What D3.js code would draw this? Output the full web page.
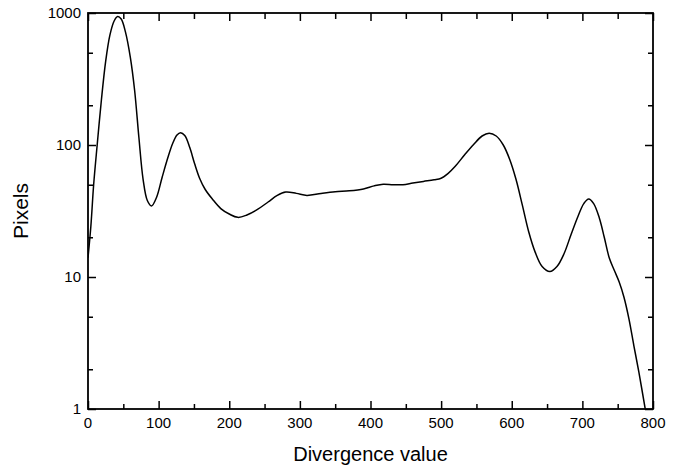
<!DOCTYPE html>
<html>
<head>
<meta charset="utf-8">
<script src="https://cdn.jsdelivr.net/npm/d3@7"></script>
<style>
  body { margin: 0; background: #fff; }
  text { font-family: "Liberation Sans", Arial, Helvetica, sans-serif; fill: #000; }
</style>
</head>
<body>
<div id="chart"></div>
<script>
// Histogram values
const divergence = [0, 4, 8, 13, 19, 25, 31, 37, 42, 47, 53, 60, 66, 72, 78, 84, 90, 97, 105, 113,
  120, 126, 131, 137, 144, 151, 158, 166, 176, 188, 200, 212, 225, 240, 255, 268, 280, 295, 310, 330,
  350, 370, 390, 405, 418, 432, 446, 460, 475, 490, 500, 510, 520, 533, 546, 558, 568, 578, 588, 597,
  606, 615, 624, 633, 643, 654, 664, 674, 684, 694, 702, 709, 716, 724, 731, 738, 745, 752, 759, 766,
  773, 780, 789];
const pixels = [14, 24, 50, 100, 220, 430, 680, 870, 940, 900, 720, 460, 260, 115, 55, 38, 34.5, 40, 57, 80,
  103, 119, 124, 118, 96, 72, 56, 46, 39, 33, 30, 28.3, 29.5, 32.5, 37, 41.5, 44, 43, 41.5, 43,
  44.3, 45, 46.5, 49, 50.5, 50, 50, 51.5, 53, 54.5, 56, 61, 69, 84, 101, 117, 122.6, 117, 100, 78,
  55, 35, 22, 15.5, 12, 11, 12, 15, 21, 29, 36, 39, 36, 28, 20, 14, 11.3, 9.2, 7, 4.8,
  3, 1.9, 1.0];

const xMajorTicks = [0, 100, 200, 300, 400, 500, 600, 700, 800];
const xMinorTicks = [50, 150, 250, 350, 450, 550, 650, 750];
const yMajorTicks = [1, 10, 100, 1000];
const yMinorTicks = [2, 5, 20, 50, 200, 500];

const width = 678, height = 466;
const margin = { top: 13, right: 25, bottom: 57, left: 88 };
const w = width - margin.left - margin.right;
const h = height - margin.top - margin.bottom;

const svg = d3.select("#chart").append("svg")
  .attr("width", width)
  .attr("height", height);

const g = svg.append("g")
  .attr("transform", `translate(${margin.left},${margin.top})`);

const x = d3.scaleLinear().domain([0, 800]).range([0, w]);
const y = d3.scaleLog().domain([1, 1000]).range([h, 0]);

// clip for the curve
svg.append("defs").append("clipPath").attr("id", "plot")
  .append("rect").attr("width", w).attr("height", h);

// ticks point inward on all four sides
function tickAxis(axis, scale, ticks, size, transform) {
  const a = g.append("g").attr("transform", transform)
    .call(axis(scale).tickValues(ticks).tickSize(-size).tickFormat(""));
  a.select(".domain").remove();
  a.selectAll("line").attr("stroke", "#000").attr("stroke-width", 1.5);
  return a;
}

tickAxis(d3.axisBottom, x, xMajorTicks, 8, `translate(0,${h})`);
tickAxis(d3.axisBottom, x, xMinorTicks, 5, `translate(0,${h})`);
tickAxis(d3.axisTop, x, xMajorTicks, 8, "translate(0,0)");
tickAxis(d3.axisTop, x, xMinorTicks, 6, "translate(0,0)");
tickAxis(d3.axisLeft, y, yMajorTicks, 8, "translate(0,0)");
tickAxis(d3.axisLeft, y, yMinorTicks, 5, "translate(0,0)");
tickAxis(d3.axisRight, y, yMajorTicks, 8, `translate(${w},0)`);
tickAxis(d3.axisRight, y, yMinorTicks, 5, `translate(${w},0)`);

// tick labels
g.append("g").selectAll("text")
  .data(xMajorTicks)
  .join("text")
  .attr("x", d => x(d))
  .attr("y", h + 19)
  .attr("text-anchor", "middle")
  .style("font-size", "15px")
  .text(d => d);

g.append("g").selectAll("text")
  .data(yMajorTicks)
  .join("text")
  .attr("x", -7)
  .attr("y", d => y(d))
  .attr("dy", "0.36em")
  .attr("text-anchor", "end")
  .style("font-size", "15px")
  .text(d => d);

// frame
g.append("rect")
  .attr("width", w)
  .attr("height", h)
  .attr("fill", "none")
  .attr("stroke", "#000")
  .attr("stroke-width", 1.8);

// the curve
const line = d3.line()
  .x((d, i) => x(divergence[i]))
  .y(d => y(d))
  .curve(d3.curveCatmullRom.alpha(0.5));

g.append("path")
  .datum(pixels)
  .attr("clip-path", "url(#plot)")
  .attr("fill", "none")
  .attr("stroke", "#000")
  .attr("stroke-width", 1.5)
  .attr("d", line);

// axis titles
svg.append("text")
  .attr("x", margin.left + w / 2)
  .attr("y", 461)
  .attr("text-anchor", "middle")
  .style("font-size", "20px")
  .text("Divergence value");

svg.append("text")
  .attr("transform", `translate(28,${margin.top + h / 2}) rotate(-90)`)
  .attr("text-anchor", "middle")
  .style("font-size", "21px")
  .text("Pixels");
</script>
</body>
</html>
